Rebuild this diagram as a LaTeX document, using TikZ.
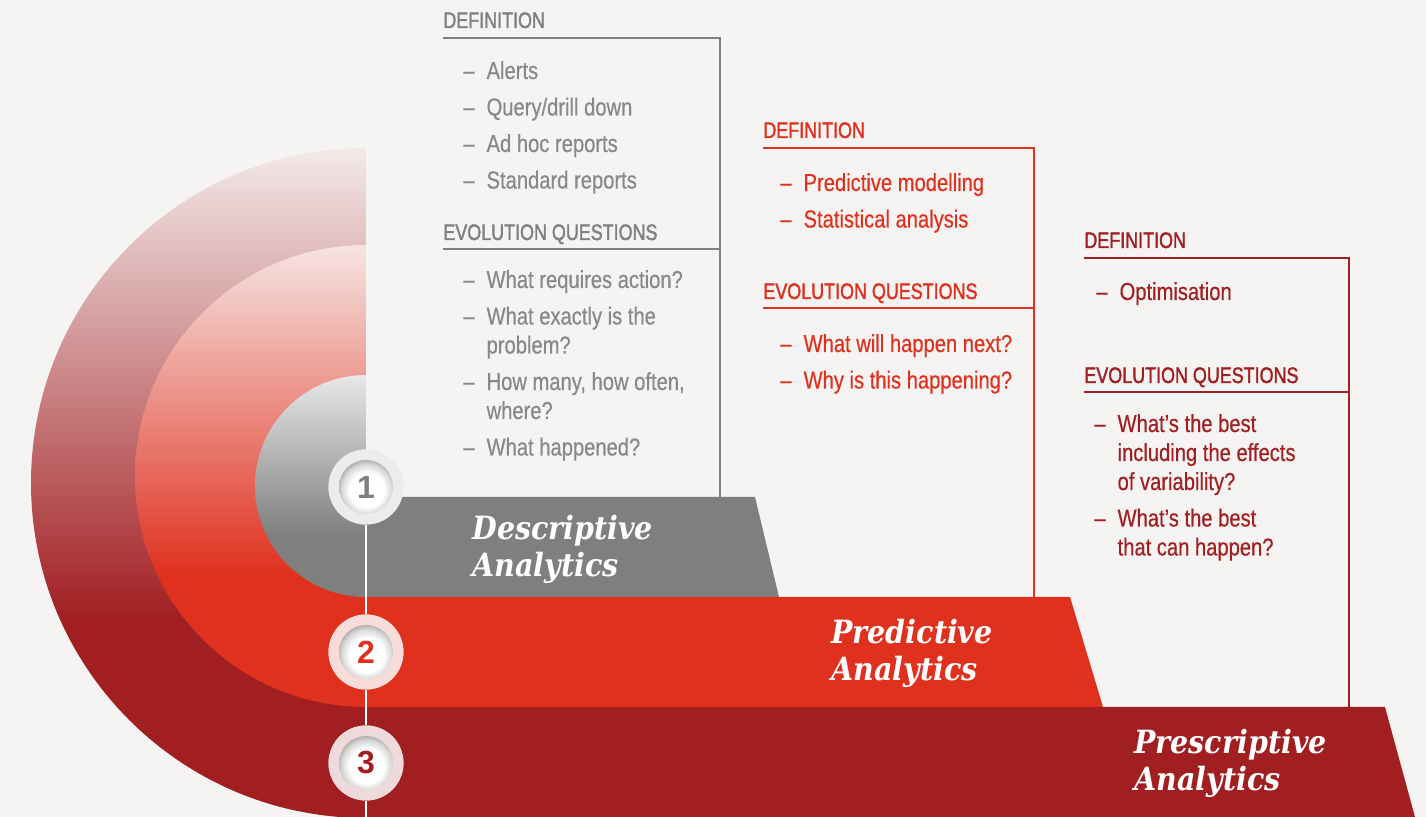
\documentclass[tikz,border=0pt]{standalone}
\usepackage{fontspec}
\newfontfamily\condsans[FakeStretch=0.82,FakeBold=0.4]{Liberation Sans}
\newfontfamily\condhead[FakeStretch=0.80,FakeBold=1.6]{Liberation Sans}
\newfontfamily\numsans{Liberation Sans}
\newfontfamily\titleserif[FakeStretch=0.89]{DejaVu Serif}

\definecolor{paper}{HTML}{F5F4F2}
\definecolor{inkgrey}{HTML}{7F7F7F}
\definecolor{textgrey}{HTML}{888888}
\definecolor{brred}{HTML}{E0311F}
\definecolor{dkred}{HTML}{A11E21}
\definecolor{ringA}{HTML}{ECECEC}
\definecolor{ringB}{HTML}{F8DCDA}
\definecolor{ringC}{HTML}{EEDADB}
\definecolor{greypale}{HTML}{E9E8E8}
\definecolor{redpale}{HTML}{F6E4E2}
\definecolor{dkpale}{HTML}{F3E9E9}

% button look of the step numbers
\pgfdeclareradialshading{knob}{\pgfpoint{1bp}{-4bp}}{color(0bp)=(white); color(16bp)=(white); color(23bp)=(black!15); color(28bp)=(black!35); color(50bp)=(black!35)}

\newcommand{\itemgap}{3.75pt}

\tikzset{
  head/.style={anchor=base west, inner sep=0pt, font=\condhead\fontsize{11.2}{13}\selectfont},
  qlist/.style={anchor=base west, inner sep=0pt, font=\condsans\fontsize{12.3}{14.5}\selectfont},
  bracket/.style={line width=1pt},
  barlabel/.style={anchor=base west, inner sep=0pt, text=white, font=\titleserif\fontsize{16}{18.5}\selectfont\bfseries\itshape},
  numring/.style={circle, minimum size=37.5pt, inner sep=0pt},
  numknob/.style={circle, minimum size=27pt, inner sep=0pt, shading=knob, font=\numsans\bfseries\fontsize{16}{16}\selectfont},
}

\begin{document}
\begin{tikzpicture}[x=0.5pt,y=-0.5pt]
  \useasboundingbox (0,0) rectangle (1426,817);
  \fill[paper] (0,0) rectangle (1426,817);

  % outer half ring, pale at the top and dark red below
  \begin{scope}
    \clip (366,148) arc[start angle=270,end angle=90,radius=335] -- cycle;
    \shade[top color=dkpale, bottom color=dkred] (0,148) rectangle (366,620);
    \fill[dkred] (0,619) rectangle (366,820);
  \end{scope}

  % middle half ring
  \begin{scope}
    \clip (366,245) arc[start angle=270,end angle=90,radius=231] -- cycle;
    \shade[top color=redpale, bottom color=brred] (0,245) rectangle (366,575);
    \fill[brred] (0,574) rectangle (366,710);
  \end{scope}

  % inner half disc
  \begin{scope}
    \clip (366,375) arc[start angle=270,end angle=90,radius=111] -- cycle;
    \shade[top color=greypale, bottom color=inkgrey] (0,375) rectangle (366,535);
    \fill[inkgrey] (0,534) rectangle (366,600);
  \end{scope}

  % the three bars
  \fill[dkred] (366,707) -- (1385,707) -- (1415,817) -- (366,817) -- cycle;
  \fill[brred] (366,597) -- (1070,597) -- (1103,707) -- (366,707) -- cycle;
  \fill[inkgrey] (366,497) -- (755,497) -- (779,597) -- (366,597) -- cycle;

  % brackets
  \draw[bracket, inkgrey] (443,38) -| (720,497);
  \draw[bracket, inkgrey] (443,249) -- (720,249);
  \draw[bracket, brred] (763,148) -| (1034,597);
  \draw[bracket, brred] (763,308) -- (1034,308);
  \draw[bracket, dkred] (1084,258) -| (1349,707);
  \draw[bracket, dkred] (1084,392) -- (1349,392);

  % step numbers on the axis
  \coordinate (axisend) at (366,817);
  \node[numring, fill=ringA] (stepA) at (366,487) {};
  \node[numring, fill=ringB] (stepB) at (366,652) {};
  \node[numring, fill=ringC] (stepC) at (366,763) {};
  \draw[white, line width=1.2pt] (stepA) -- (stepB) -- (stepC) -- (axisend);
  \node[numring, fill=ringA] at (stepA) {};
  \node[numring, fill=ringB] at (stepB) {};
  \node[numring, fill=ringC] at (stepC) {};
  \node[numknob, text=inkgrey] (knobA) at (stepA) {1};
  \node[numknob, text=brred] (knobB) at (stepB) {2};
  \node[numknob, text=dkred] (knobC) at (stepC) {3};

  % bar titles
  \node[barlabel] (titleA) at (472,540) {\begin{tabular}[t]{@{}l@{}}Descriptive\\Analytics\end{tabular}};
  \node[barlabel] (titleB) at (831,644) {\begin{tabular}[t]{@{}l@{}}Predictive\\Analytics\end{tabular}};
  \node[barlabel] (titleC) at (1134,754) {\begin{tabular}[t]{@{}l@{}}Prescriptive\\Analytics\end{tabular}};

  % descriptive column
  \node[head, text=inkgrey] (defA) at (443,28) {DEFINITION};
  \node[qlist, text=textgrey] (defAlist) at (463,79) {\begin{tabular}[t]{@{}l@{\hspace{6pt}}l@{}}
    – & Alerts\\[\itemgap]
    – & Query/drill down\\[\itemgap]
    – & Ad hoc reports\\[\itemgap]
    – & Standard reports
  \end{tabular}};
  \node[head, text=inkgrey] (evoA) at (443,240) {EVOLUTION QUESTIONS};
  \node[qlist, text=textgrey] (evoAlist) at (463,288) {\begin{tabular}[t]{@{}l@{\hspace{6pt}}l@{}}
    – & What requires action?\\[\itemgap]
    – & What exactly is the\\
      & problem?\\[\itemgap]
    – & How many, how often,\\
      & where?\\[\itemgap]
    – & What happened?
  \end{tabular}};

  % predictive column
  \node[head, text=brred] (defB) at (763,138) {DEFINITION};
  \node[qlist, text=brred] (defBlist) at (780,191) {\begin{tabular}[t]{@{}l@{\hspace{6pt}}l@{}}
    – & Predictive modelling\\[\itemgap]
    – & Statistical analysis
  \end{tabular}};
  \node[head, text=brred] (evoB) at (763,299) {EVOLUTION QUESTIONS};
  \node[qlist, text=brred] (evoBlist) at (780,352) {\begin{tabular}[t]{@{}l@{\hspace{6pt}}l@{}}
    – & What will happen next?\\[\itemgap]
    – & Why is this happening?
  \end{tabular}};

  % prescriptive column
  \node[head, text=dkred] (defC) at (1084,248) {DEFINITION};
  \node[qlist, text=dkred] (defClist) at (1096,300) {\begin{tabular}[t]{@{}l@{\hspace{6pt}}l@{}}
    – & Optimisation
  \end{tabular}};
  \node[head, text=dkred] (evoC) at (1084,383) {EVOLUTION QUESTIONS};
  \node[qlist, text=dkred] (evoClist) at (1094,432) {\begin{tabular}[t]{@{}l@{\hspace{6pt}}l@{}}
    – & What’s the best\\
      & including the effects\\
      & of variability?\\[\itemgap]
    – & What’s the best\\
      & that can happen?
  \end{tabular}};
\end{tikzpicture}
\end{document}
